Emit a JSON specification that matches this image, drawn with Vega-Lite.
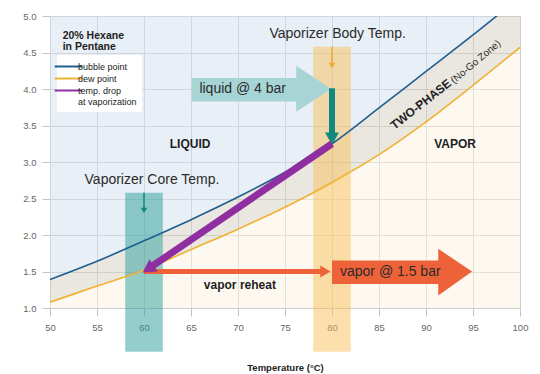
{
  "$schema": "https://vega.github.io/schema/vega-lite/v6.json",
  "width": 470,
  "height": 292,
  "autosize": {"type": "none"},
  "padding": {"left": 50, "top": 16, "right": 20, "bottom": 66},
  "background": "white",
  "config": {
    "view": {"stroke": null},
    "font": "Liberation Sans",
    "axis": {
      "gridColor": "#cdcdcd",
      "tickColor": "#c4c4c4",
      "domain": false,
      "labelColor": "#666666",
      "labelFontSize": 9.5,
      "tickSize": 8,
      "labelPadding": 6
    }
  },
  "datasets": {
    "curves": [
      {"T": 50, "bubble": 1.39, "dew": 1.08},
      {"T": 55, "bubble": 1.64, "dew": 1.30},
      {"T": 60, "bubble": 1.92, "dew": 1.52},
      {"T": 65, "bubble": 2.21, "dew": 1.80},
      {"T": 70, "bubble": 2.52, "dew": 2.08},
      {"T": 75, "bubble": 2.86, "dew": 2.38},
      {"T": 80, "bubble": 3.25, "dew": 2.72},
      {"T": 85, "bubble": 3.74, "dew": 3.10},
      {"T": 90, "bubble": 4.24, "dew": 3.55},
      {"T": 95, "bubble": 4.74, "dew": 4.05},
      {"T": 100, "bubble": 5.26, "dew": 4.57}
    ]
  },
  "encoding": {
    "x": {"field": "T", "type": "quantitative", "scale": {"domain": [50, 100], "nice": false, "zero": false},
      "axis": {"title": "Temperature (°C)", "values": [50, 55, 60, 65, 70, 75, 80, 85, 90, 95, 100], "titlePadding": 31, "titleFontSize": 9.5, "titleFontWeight": "bold", "titleColor": "#222222", "labelFlush": false}},
    "y": {"field": "P", "type": "quantitative", "scale": {"domain": [1, 5], "nice": false, "zero": false},
      "axis": {"title": null, "values": [1, 1.5, 2, 2.5, 3, 3.5, 4, 4.5, 5], "format": ".1f", "labelFlush": false}}
  },
  "layer": [
    {
      "data": {"name": "curves"},
      "mark": {"type": "area", "clip": true, "interpolate": "monotone", "color": "#d3dfed", "opacity": 0.5},
      "encoding": {
        "y": {"field": "bubble", "type": "quantitative", "scale": {"domain": [1, 5], "nice": false, "zero": false},
          "axis": {"title": null, "values": [1, 1.5, 2, 2.5, 3, 3.5, 4, 4.5, 5], "format": ".1f", "labelFlush": false}},
        "y2": {"datum": 5}
      }
    },
    {
      "data": {"name": "curves"},
      "mark": {"type": "area", "clip": true, "interpolate": "monotone", "color": "#d5cdc1", "opacity": 0.5},
      "encoding": {
        "y": {"field": "dew", "type": "quantitative", "scale": {"domain": [1, 5], "nice": false, "zero": false},
          "axis": {"title": null, "values": [1, 1.5, 2, 2.5, 3, 3.5, 4, 4.5, 5], "format": ".1f", "labelFlush": false}},
        "y2": {"field": "bubble"}
      }
    },
    {
      "data": {"name": "curves"},
      "mark": {"type": "area", "clip": true, "interpolate": "monotone", "color": "#fbf3e1", "opacity": 0.5},
      "encoding": {
        "y": {"field": "dew", "type": "quantitative", "scale": {"domain": [1, 5], "nice": false, "zero": false},
          "axis": {"title": null, "values": [1, 1.5, 2, 2.5, 3, 3.5, 4, 4.5, 5], "format": ".1f", "labelFlush": false}},
        "y2": {"datum": 1}
      }
    },
    {
      "data": {"values": [{"T": 58, "T2": 62, "P": 0.4, "P2": 2.58}]},
      "mark": {"type": "rect", "color": "#2a9d9a", "opacity": 0.5},
      "encoding": {"x2": {"field": "T2"}, "y2": {"field": "P2"}}
    },
    {
      "data": {"values": [{"T": 78, "T2": 82, "P": 0.4, "P2": 4.58}]},
      "mark": {"type": "rect", "color": "#f8bf5a", "opacity": 0.5},
      "encoding": {"x2": {"field": "T2"}, "y2": {"field": "P2"}}
    },
    {
      "data": {"name": "curves"},
      "transform": [{"fold": ["bubble", "dew"], "as": ["series", "P"]}],
      "mark": {"type": "line", "clip": true, "interpolate": "monotone", "strokeWidth": 1.6},
      "encoding": {
        "color": {
          "field": "series", "type": "nominal",
          "scale": {"domain": ["bubble", "dew", "drop"], "range": ["#1f5f8f", "#f0b232", "#8e2ea0"]},
          "legend": {
            "title": null, "orient": "none", "legendX": 7, "legendY": 39,
            "fillColor": "white", "padding": 5, "symbolType": "M-2.5,0L2.5,0", "symbolSize": 121,
            "symbolStrokeWidth": 2, "labelFontSize": 9, "labelColor": "#222222", "labelOffset": 3,
            "rowPadding": 0,
            "labelExpr": "datum.value == 'bubble' ? 'bubble point' : datum.value == 'dew' ? 'dew point' : ['temp. drop', 'at vaporization']"
          }
        }
      }
    },
    {
      "data": {"values": [{"T": 60, "P": 2.58, "P2": 2.34}]},
      "mark": {"type": "rule", "color": "#14897e", "strokeWidth": 1.5},
      "encoding": {"y2": {"field": "P2"}}
    },
    {
      "data": {"values": [{"T": 60, "P": 2.336}]},
      "mark": {"type": "point", "shape": "triangle-down", "filled": true, "opacity": 1, "size": 42, "color": "#14897e", "strokeWidth": 0}
    },
    {
      "data": {"values": [{"T": 80, "P": 4.58, "P2": 4.33}]},
      "mark": {"type": "rule", "color": "#f0a928", "strokeWidth": 1.5},
      "encoding": {"y2": {"field": "P2"}}
    },
    {
      "data": {"values": [{"T": 80, "P": 4.32}]},
      "mark": {"type": "point", "shape": "triangle-down", "filled": true, "opacity": 1, "size": 42, "color": "#f0a928", "strokeWidth": 0}
    },
    {
      "data": {"values": [{"T": 65.07, "T2": 76.3, "P": 3.83, "P2": 4.15}]},
      "mark": {"type": "rect", "color": "#a7d5d5", "opacity": 1},
      "encoding": {"x2": {"field": "T2"}, "y2": {"field": "P2"}}
    },
    {
      "data": {"values": [{"T": 76.2, "P": 3.69, "P2": 4.32}, {"T": 79.9, "P": 4.0, "P2": 4.0}]},
      "mark": {"type": "area", "color": "#a7d5d5", "opacity": 1},
      "encoding": {"y2": {"field": "P2"}}
    },
    {
      "data": {"values": [{"T": 80.0, "T2": 91.4, "P": 1.33, "P2": 1.65}]},
      "mark": {"type": "rect", "color": "#ee623a", "opacity": 1},
      "encoding": {"x2": {"field": "T2"}, "y2": {"field": "P2"}}
    },
    {
      "data": {"values": [{"T": 91.3, "P": 1.17, "P2": 1.81}, {"T": 94.9, "P": 1.5, "P2": 1.5}]},
      "mark": {"type": "area", "color": "#ee623a", "opacity": 1},
      "encoding": {"y2": {"field": "P2"}}
    },
    {
      "data": {"values": [{"T": 60, "T2": 79.0, "P": 1.5}]},
      "mark": {"type": "rule", "color": "#ee623a", "strokeWidth": 5},
      "encoding": {"x2": {"field": "T2"}}
    },
    {
      "data": {"values": [{"T": 79.3, "P": 1.5}]},
      "mark": {"type": "point", "shape": "triangle-right", "filled": true, "opacity": 1, "size": 144, "color": "#ee623a", "strokeWidth": 0}
    },
    {
      "data": {"values": [{"T": 80, "P": 4.01, "P2": 3.35}]},
      "mark": {"type": "rule", "color": "#12897e", "strokeWidth": 6},
      "encoding": {"y2": {"field": "P2"}}
    },
    {
      "data": {"values": [{"T": 80, "P": 3.32}]},
      "mark": {"type": "point", "shape": "triangle-down", "filled": true, "opacity": 1, "size": 196, "color": "#12897e", "strokeWidth": 0}
    },
    {
      "data": {"values": [{"T": 80, "P": 3.25, "T2": 60.63, "P2": 1.552}]},
      "mark": {"type": "rule", "color": "#8e2ea0", "strokeWidth": 7},
      "encoding": {"x2": {"field": "T2"}, "y2": {"field": "P2"}}
    },
    {
      "data": {"values": [{"T": 60.63, "P": 1.552}]},
      "mark": {"type": "point", "shape": "triangle", "angle": 236.7, "filled": true, "opacity": 1, "size": 220, "color": "#8e2ea0", "strokeWidth": 0}
    },
    {
      "data": {"values": [
        {"label": "Vaporizer Body Temp.", "T": 80.6, "P": 4.76},
        {"label": "Vaporizer Core Temp.", "T": 60.85, "P": 2.76},
        {"label": "liquid @ 4 bar", "T": 70.5, "P": 4.0},
        {"label": "vapor @ 1.5 bar", "T": 86.2, "P": 1.5}
      ]},
      "mark": {"type": "text", "fontSize": 14, "color": "#2b2b2b", "align": "center", "baseline": "middle"},
      "encoding": {"text": {"field": "label"}}
    },
    {
      "data": {"values": [
        {"label": "LIQUID", "T": 64.9, "P": 3.25},
        {"label": "VAPOR", "T": 93.1, "P": 3.25},
        {"label": "vapor reheat", "T": 70.2, "P": 1.32}
      ]},
      "mark": {"type": "text", "fontSize": 12, "fontWeight": "bold", "color": "#1e1e1e", "align": "center", "baseline": "middle"},
      "encoding": {"text": {"field": "label"}}
    },
    {
      "data": {"values": [{"label": "TWO-PHASE", "T": 89.45, "P": 3.79}]},
      "mark": {"type": "text", "fontSize": 12, "fontWeight": "bold", "color": "#1e1e1e", "align": "center", "baseline": "middle", "angle": 322},
      "encoding": {"text": {"field": "label"}}
    },
    {
      "data": {"values": [{"label": "(No-Go Zone)", "T": 95.3, "P": 4.37}]},
      "mark": {"type": "text", "fontSize": 10, "color": "#2b2b2b", "align": "center", "baseline": "middle", "angle": 320},
      "encoding": {"text": {"field": "label"}}
    },
    {
      "data": {"values": [
        {"label": "20% Hexane", "T": 51.35, "P": 4.726},
        {"label": "in Pentane", "T": 51.35, "P": 4.58}
      ]},
      "mark": {"type": "text", "fontSize": 10.5, "fontWeight": "bold", "color": "#1e1e1e", "align": "left", "baseline": "middle"},
      "encoding": {"text": {"field": "label"}}
    }
  ]
}
